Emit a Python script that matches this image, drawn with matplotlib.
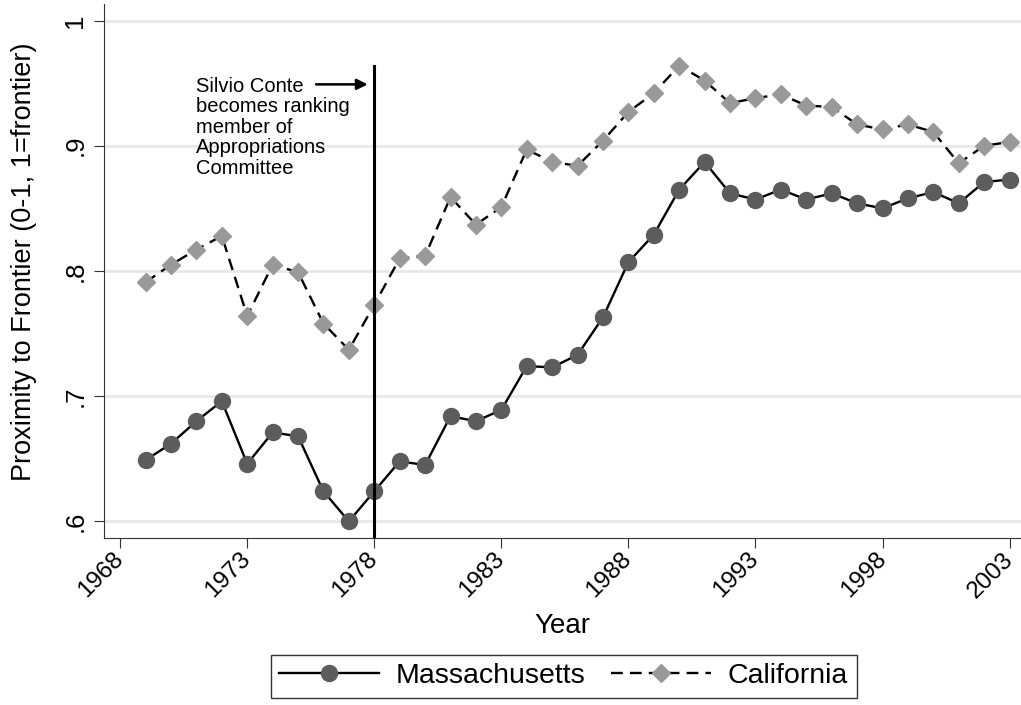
import matplotlib
matplotlib.use('Agg')
import matplotlib.pyplot as plt

plt.rcParams['font.family'] = ['Liberation Sans', 'DejaVu Sans']

# 연도별 데이터
years = list(range(1969, 2004))
massachusetts = [0.649, 0.662, 0.680, 0.696, 0.646, 0.671, 0.668, 0.624, 0.600, 0.624,
                 0.648, 0.645, 0.684, 0.680, 0.689, 0.724, 0.723, 0.733, 0.763, 0.807,
                 0.829, 0.865, 0.887, 0.862, 0.857, 0.865, 0.857, 0.862, 0.854, 0.850,
                 0.858, 0.863, 0.854, 0.871, 0.873]
california = [0.791, 0.805, 0.817, 0.828, 0.764, 0.805, 0.799, 0.758, 0.737, 0.773,
              0.810, 0.812, 0.859, 0.837, 0.851, 0.897, 0.887, 0.884, 0.904, 0.927,
              0.942, 0.964, 0.952, 0.934, 0.938, 0.941, 0.932, 0.931, 0.917, 0.913,
              0.917, 0.911, 0.886, 0.900, 0.903]
x_ticks = [1968, 1973, 1978, 1983, 1988, 1993, 1998, 2003]
y_ticks = [0.6, 0.7, 0.8, 0.9, 1.0]
y_tick_labels = ['.6', '.7', '.8', '.9', '1']
event_year = 1978

fig = plt.figure(figsize=(10.21, 7.05), dpi=100)
ax = fig.add_axes([0.102, 0.237, 0.898, 0.757])

# 그리드
for y in y_ticks:
    ax.axhline(y, color='#e8e8e8', linewidth=2, zorder=0)

ax.plot(years, massachusetts, color='black', linewidth=1.7, marker='o', markersize=11.5,
        markerfacecolor='#5c5c5c', markeredgecolor='#5c5c5c', label='Massachusetts', zorder=3)
ax.plot(years, california, color='black', linewidth=1.7, linestyle=(0, (5, 3)), marker='D',
        markersize=9, markerfacecolor='#999999', markeredgecolor='#999999', label='California', zorder=3)

# 수직선
ax.plot([event_year, event_year], [0.5868, 0.964], color='black', linewidth=2.2, zorder=4)

ax.text(1971.0, 0.955, 'Silvio Conte\nbecomes ranking\nmember of\nAppropriations\nCommittee',
        fontsize=14.5, va='top', ha='left', linespacing=1.1)
ax.annotate('', xy=(1977.85, 0.949), xytext=(1975.6, 0.949),
            arrowprops=dict(arrowstyle='-|>', color='black', lw=1.8, mutation_scale=16))

ax.set_xlim(1967.37, 2003.45)
ax.set_ylim(0.5868, 1.013)
ax.set_xticks(x_ticks)
ax.set_xticklabels([str(x) for x in x_ticks], rotation=45, ha='right', va='center',
                   rotation_mode='anchor', fontsize=17.5)
ax.set_yticks(y_ticks)
ax.set_yticklabels(y_tick_labels, rotation=90, va='center', fontsize=18.5)
ax.tick_params(axis='both', length=7, width=0.8, color='#333333')
ax.tick_params(axis='x', pad=6)
ax.tick_params(axis='y', pad=5)

ax.spines['top'].set_visible(False)
ax.spines['right'].set_visible(False)
ax.spines['left'].set_color('#333333')
ax.spines['bottom'].set_color('#333333')

ax.set_xlabel('Year', fontsize=20)
ax.xaxis.set_label_coords(0.5, -0.14)
ax.set_ylabel('Proximity to Frontier (0-1, 1=frontier)', fontsize=19.5)
ax.yaxis.set_label_coords(-0.073, 0.517)

fig.legend(loc='center', bbox_to_anchor=(0.552, 0.041), ncol=2, fontsize=20.5,
           frameon=True, fancybox=False, edgecolor='black', handlelength=3.5,
           columnspacing=0.9, borderpad=0.3, handletextpad=0.6)

fig.savefig('out.png', dpi=100)
